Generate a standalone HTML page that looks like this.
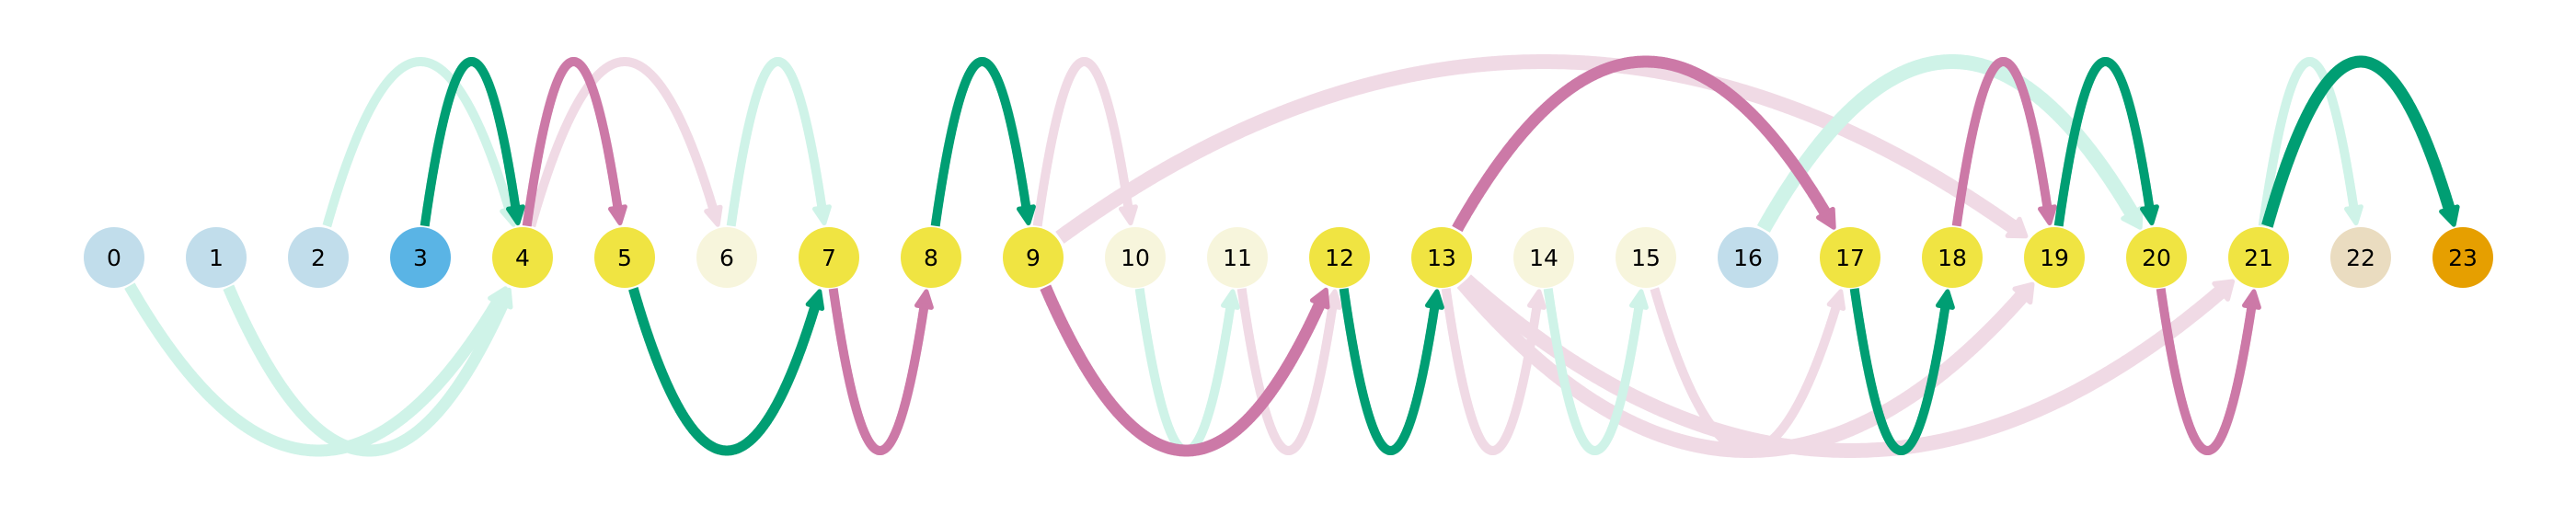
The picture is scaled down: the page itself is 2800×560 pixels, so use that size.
<!DOCTYPE html>
<html><head><meta charset="utf-8"><style>
html,body{margin:0;padding:0;background:#fff;}
svg{display:block;}
text{font-family:"DejaVu Sans","Liberation Sans",sans-serif;font-size:25px;}
</style></head><body>
<svg id="chart" width="2800" height="560" viewBox="0 0 2800 560" xmlns="http://www.w3.org/2000/svg">
<g id="edges"></g>
<g id="nodes"></g>
</svg>
<script>
const nodeLabels = ["0","1","2","3","4","5","6","7","8","9","10","11","12","13","14","15","16","17","18","19","20","21","22","23"];
const nodeColors = ["#c1ddeb","#c1ddeb","#c1ddeb","#5ab4e5","#f0e442","#f0e442","#f7f5dc","#f0e442","#f0e442","#f0e442","#f7f5dc","#f7f5dc","#f0e442","#f0e442","#f7f5dc","#f7f5dc","#c1ddeb","#f0e442","#f0e442","#f0e442","#f0e442","#f0e442","#eadcc0","#e69f00"];
// edges: source, target, side (1 = top, -1 = bottom), kind
const edgeSources = [2,4,6,9,9,16,21, 0,1,10,11,13,13,13,14,15, 3,4,8,13,18,19,21, 5,7,9,12,17,20];
const edgeTargets = [4,6,7,10,19,20,22, 4,4,11,12,14,19,21,15,17, 4,5,9,17,19,20,23, 7,8,12,13,18,21];
const edgeSides   = [1,1,1,1,1,1,1, -1,-1,-1,-1,-1,-1,-1,-1,-1, 1,1,1,1,1,1,1, -1,-1,-1,-1,-1,-1];
const edgeKinds   = ["lg","lp","lg","lp","lp","lg","lg", "lg","lg","lg","lp","lp","lp","lp","lg","lp", "dg","dp","dg","dp","dp","dg","dg", "dg","dp","dp","dg","dg","dp"];
const edgeWeights = [1,1,1,1,1.6,1.6,1, 1.3,1.3,1,1,1,1.6,1.6,1,1, 1,1,1,1.3,1,1,1.3, 1.1,1,1.3,1,1,1];

const kindColor = {lg:"#cff3e8", lp:"#f0dae5", dg:"#009e73", dp:"#cc79a7"};
const X0 = 124, DX = 111, CY = 280, R = 33;
const xOf = i => X0 + DX * i;
const NS = "http://www.w3.org/2000/svg";
const gE = document.getElementById("edges"), gN = document.getElementById("nodes");

function qb(p0,p1,p2,t){const u=1-t;return [u*u*p0[0]+2*u*t*p1[0]+t*t*p2[0],u*u*p0[1]+2*u*t*p1[1]+t*t*p2[1]];}

for (let k = 0; k < edgeSources.length; k++) {
  const s = edgeSources[k], t = edgeTargets[k], side = edgeSides[k];
  const x1 = xOf(s), x2 = xOf(t);
  const cy = side > 0 ? -146 : 700;
  const P0=[x1,CY],P1=[(x1+x2)/2,cy],P2=[x2,CY];
  const pts=[];
  for (let i=0;i<=500;i++){
    const p=qb(P0,P1,P2,i/500);
    const d1=Math.hypot(p[0]-x1,p[1]-CY), d2=Math.hypot(p[0]-x2,p[1]-CY);
    if (d1>R+1 && d2>R+4) pts.push(p);
  }
  const col = kindColor[edgeKinds[k]];
  const w = 10 * edgeWeights[k];
  const tip = pts[pts.length-1];
  let j = pts.length-1;
  while (j>0 && Math.hypot(pts[j][0]-tip[0],pts[j][1]-tip[1])<16) j--;
  const base = pts[j];
  const line = document.createElementNS(NS,"path");
  
  
  line.setAttribute("d","M"+pts.slice(0,j+1).map(p=>p[0].toFixed(1)+","+p[1].toFixed(1)).join(" L"));
  line.setAttribute("fill","none");
  line.setAttribute("stroke",col);
  line.setAttribute("stroke-width",w);
  gE.appendChild(line);
  const ang = Math.atan2(tip[1]-base[1], tip[0]-base[0]);
  const hw = Math.max(8, w*0.7);
  const nx=-Math.sin(ang), ny=Math.cos(ang);
  const a = document.createElementNS(NS,"polygon");
  
  
  a.setAttribute("points",[[tip[0],tip[1]],[base[0]+nx*hw,base[1]+ny*hw],[base[0]-nx*hw,base[1]-ny*hw]].map(p=>p[0].toFixed(1)+","+p[1].toFixed(1)).join(" "));
  a.setAttribute("fill",col);
  a.setAttribute("stroke",col);
  a.setAttribute("stroke-width",5);
  a.setAttribute("stroke-linejoin","round");
  gE.appendChild(a);
}
for (let i = 0; i < nodeLabels.length; i++) {
  const c = document.createElementNS(NS,"circle");
  
  
  c.setAttribute("cx",xOf(i)); c.setAttribute("cy",CY); c.setAttribute("r",R);
  c.setAttribute("fill",nodeColors[i]);
  gN.appendChild(c);
  const tx = document.createElementNS(NS,"text");
  
  
  tx.setAttribute("x",xOf(i)); tx.setAttribute("y",CY+9);
  tx.setAttribute("text-anchor","middle");
  tx.textContent = nodeLabels[i];
  gN.appendChild(tx);
}
</script>
</body></html>
